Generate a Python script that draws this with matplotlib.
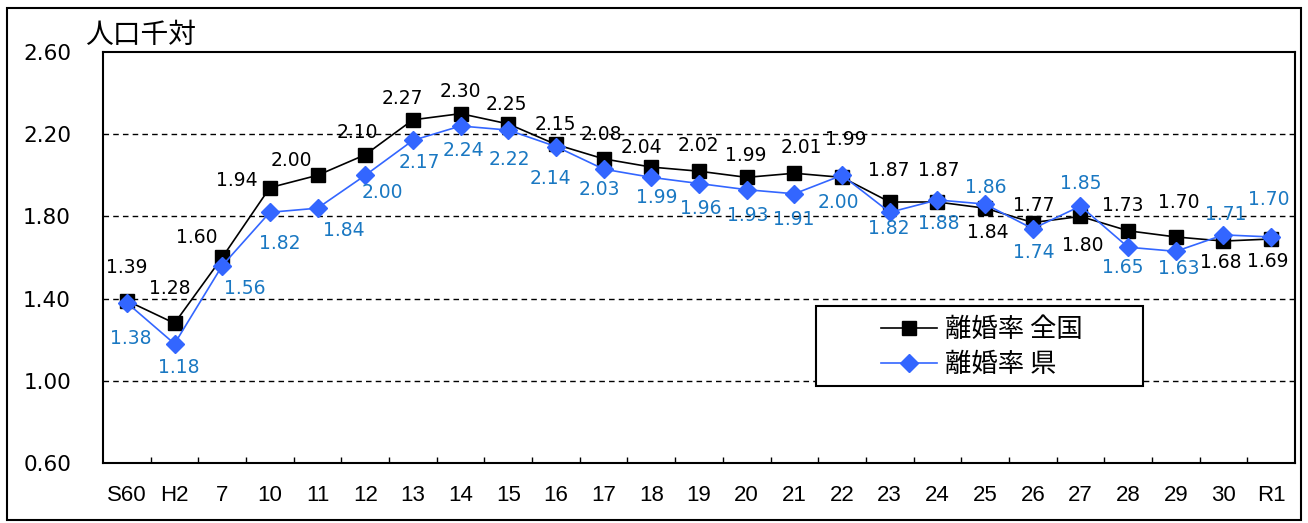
import matplotlib
matplotlib.use("Agg")
import matplotlib.pyplot as plt
from matplotlib.patches import Rectangle
from matplotlib.lines import Line2D

plt.rcParams["font.family"] = ["Noto Sans CJK JP", "DejaVu Sans"]

# data (人口千対)
years = ["S60", "H2", "7", "10", "11", "12", "13", "14", "15", "16", "17", "18", "19",
         "20", "21", "22", "23", "24", "25", "26", "27", "28", "29", "30", "R1"]
national = [1.39, 1.28, 1.60, 1.94, 2.00, 2.10, 2.27, 2.30, 2.25, 2.15, 2.08, 2.04, 2.02,
            1.99, 2.01, 1.99, 1.87, 1.87, 1.84, 1.77, 1.80, 1.73, 1.70, 1.68, 1.69]
pref = [1.38, 1.18, 1.56, 1.82, 1.84, 2.00, 2.17, 2.24, 2.22, 2.14, 2.03, 1.99, 1.96,
        1.93, 1.91, 2.00, 1.82, 1.88, 1.86, 1.74, 1.85, 1.65, 1.63, 1.71, 1.70]
yticks = [0.60, 1.00, 1.40, 1.80, 2.20, 2.60]

# label offsets in pixels (dx right, dy down)
nat_off = [(0, -33), (-5, -35), (-25, -20), (-33, -7), (-26, -15), (-8, -22), (-11, -21),
           (0, -22), (-2, -19), (-1, -20), (-2, -24), (-10, -20), (-1, -26), (-1, -22),
           (7, -26), (4, -38), (-1, -32), (1, -32), (3, 24), (1, -17), (2, 29), (-5, -25),
           (3, -34), (-3, 21), (-3, 22)]
pref_off = [(4, 36), (4, 24), (23, 23), (10, 31), (26, 22), (17, 17), (6, 22), (3, 25),
            (1, 29), (-6, 32), (-4, 20), (5, 20), (2, 25), (1, 26), (-1, 26), (-4, 27),
            (-1, 16), (1, 24), (1, -17), (1, 24), (0, -23), (-5, 20), (3, 17), (2, -20),
            (-2, -37)]

BLUE_LINE = "#3366ff"
BLUE_TEXT = "#1a78c2"

W, H = 1308, 523
fig = plt.figure(figsize=(W / 100, H / 100), dpi=100)
ax = fig.add_axes([103 / W, 1 - 463 / H, (1295 - 103) / W, (463 - 52) / H])

x = list(range(len(years)))
ax.plot(x, national, color="black", lw=1.2, marker="s", ms=10.5, zorder=3)
ax.plot(x, pref, color=BLUE_LINE, lw=1.2, marker="D", ms=9, zorder=4)

for i in x:
    dx, dy = nat_off[i]
    ax.annotate(f"{national[i]:.2f}", (i, national[i]), xytext=(dx, -dy),
                textcoords="offset pixels", ha="center", va="center",
                fontsize=13.5, family="DejaVu Sans", color="black", zorder=5)
    dx, dy = pref_off[i]
    ax.annotate(f"{pref[i]:.2f}", (i, pref[i]), xytext=(dx, -dy),
                textcoords="offset pixels", ha="center", va="center",
                fontsize=13.5, family="DejaVu Sans", color=BLUE_TEXT, zorder=5)

ax.set_xlim(-0.5, len(years) - 0.5)
ax.set_ylim(0.6, 2.6)
ax.set_yticks(yticks)
ax.set_yticklabels([f"{v:.2f}" for v in yticks], family="DejaVu Sans", fontsize=15.5)
ax.set_xticks(x)
ax.set_xticklabels(years, family="Liberation Sans", fontsize=16)
ax.set_xticks([i + 0.5 for i in x[:-1]], minor=True)
ax.tick_params(axis="x", which="major", length=0, pad=16)
ax.tick_params(axis="x", which="minor", direction="in", length=4, width=1)
ax.tick_params(axis="y", length=0, pad=23)
for v in yticks[1:-1]:
    ax.axhline(v, color="black", lw=1, ls=(0, (4, 3)), zorder=1)
for s in ax.spines.values():
    s.set_linewidth(1.5)

fig.text(85 / W, 1 - 35 / H, "人口千対", fontsize=20, ha="left", va="center")

# legend box
fig.patches.append(Rectangle((816 / W, 1 - 386 / H), (1143 - 816) / W, (386 - 306) / H,
                             transform=fig.transFigure, fill=True, facecolor="white",
                             edgecolor="black", lw=1.5, zorder=5))
handles = [Line2D([], [], color="black", lw=1.2, marker="s", ms=10.5),
           Line2D([], [], color=BLUE_LINE, lw=1.2, marker="D", ms=9)]
leg = fig.legend(handles, ["離婚率 全国", "離婚率 県"], loc="center left",
                 bbox_to_anchor=(868 / W, 1 - 347 / H), frameon=False, fontsize=19,
                 handlelength=2.1, handletextpad=0.3, labelspacing=0.3, borderpad=0)
leg.set_zorder(6)

# outer frame
fig.patches.append(Rectangle((7 / W, 1 - 520 / H), (1301 - 7) / W, (520 - 8) / H,
                             transform=fig.transFigure, fill=False, edgecolor="black", lw=1.5))

fig.savefig("out.png", dpi=100)
